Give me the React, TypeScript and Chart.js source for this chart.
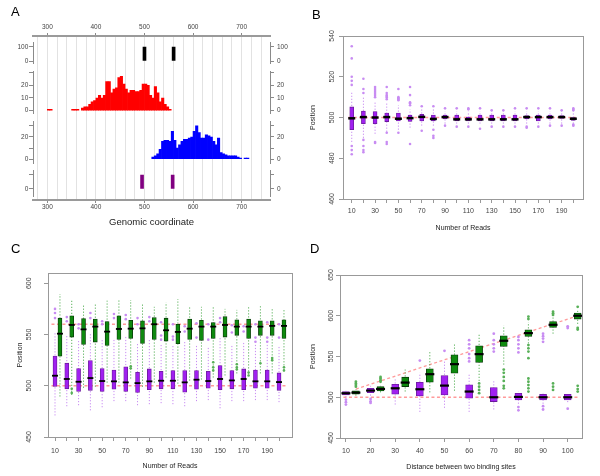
import React, { useEffect, useRef } from 'react';
import { Chart, registerables } from 'chart.js';

Chart.register(...registerables);

const FONT = "'Liberation Sans', Arial, Helvetica, sans-serif";
Chart.defaults.font.family = FONT;
const GRAY = '#999999';
const TXT = '#444444';
const TITLE = '#222222';

// ---------------- Panel A data ----------------
const genomeLabels = [300, 400, 500, 600, 700];
const genomeGrid = [280, 300, 320, 340, 360, 380, 400, 420, 440, 460, 480, 500, 520, 540, 560, 580, 600, 620, 640, 660, 680, 700, 720, 740];
const bindingSites = [500, 560];
const predictedSites = [495, 558];
const siteHeight = 100;
const binWidth = 5;
const redStarts = [300, 305, 350, 355, 360, 370, 375, 380, 385, 390, 395, 400, 405, 410, 415, 420, 425, 430, 435, 440, 445, 450, 455, 460, 465, 470, 475, 480, 485, 490, 495, 500, 505, 510, 515, 520, 525, 530, 535, 540, 545, 550];
const redCounts = [1, 1, 1, 1, 1, 2, 3, 3, 5, 7, 8, 10, 12, 10, 12, 23, 23, 14, 17, 18, 26, 27, 21, 17, 14, 16, 16, 15, 15, 16, 21, 21, 20, 12, 10, 19, 14, 7, 10, 5, 3, 1];
const blueStarts = [515, 520, 525, 530, 535, 540, 545, 550, 555, 560, 565, 570, 575, 580, 585, 590, 595, 600, 605, 610, 615, 620, 625, 630, 635, 640, 645, 650, 655, 660, 665, 670, 675, 680, 685, 690, 695, 705, 710];
const blueCounts = [2, 3, 5, 9, 16, 17, 17, 16, 25, 17, 10, 13, 16, 18, 18, 19, 20, 25, 30, 24, 19, 19, 22, 21, 20, 16, 13, 19, 6, 5, 4, 3, 3, 3, 3, 2, 1, 1, 1];

// ---------------- Panel B data ----------------
const bCats = [10, 20, 30, 40, 50, 60, 70, 80, 90, 100, 110, 120, 130, 140, 150, 160, 170, 180, 190, 200];
const bLabels = [10, 30, 50, 70, 90, 110, 130, 150, 170, 190];
const bYTicks = [460, 480, 500, 520, 540];
const bTrue = 500;
const bQ1 = [494, 497, 497, 498, 498.3, 498.1, 498.3, 498.3, 499.3, 498.3, 498.3, 498.3, 498.3, 498.3, 498.3, 499.3, 498.3, 499.3, 499.6, 498.6];
const bQ3 = [505.2, 503.2, 502.9, 502.2, 502.2, 501.2, 501.6, 501.2, 501.2, 501.2, 500.2, 501.2, 501.2, 501.2, 501.2, 500.9, 501.2, 501.2, 500.9, 499.9];
const bMed = [499.6, 500.2, 500, 500.2, 499.4, 499.7, 500.3, 499.3, 500.2, 499.1, 499.1, 499.1, 499.1, 499.1, 499.1, 500.2, 500.2, 500.2, 500.2, 499.4];
const bLo = [488, 490, 492, 493, 494, 495, 496, 496, 497, 497, 497, 497, 497, 497, 497, 497, 497, 497, 497, 497];
const bHi = [513, 510, 508, 507, 506, 504, 504, 504, 503, 503, 503, 503, 503, 503, 503, 503, 503, 503, 503, 503];
const bOut = [
  [535, 529, 520, 518, 516, 486, 484, 482],
  [519, 514, 512, 489, 486, 484, 483],
  [515, 514, 513, 512, 511, 510, 488, 487.5],
  [515, 512, 511, 510.5, 510, 509, 492.5, 488, 487],
  [514, 510, 509.5, 509, 508.5, 492.5],
  [515, 511, 507.5, 507, 506, 487],
  [505.5, 493.5],
  [505.5, 494, 491, 490],
  [504.5, 496],
  [504.5, 495.5],
  [504.5, 504, 495.5],
  [504.5, 494.5],
  [503.5, 495.5],
  [503.5, 495.5],
  [504.5, 495.5],
  [504.5, 495.5, 495],
  [504.5, 495.5],
  [504.5, 496],
  [503.5, 496],
  [504.5, 504, 503.5, 496.5, 496],
];

// ---------------- Panel C data ----------------
const cCats = [10, 20, 30, 40, 50, 60, 70, 80, 90, 100, 110, 120, 130, 140, 150, 160, 170, 180, 190, 200];
const cLabels = [10, 30, 50, 70, 90, 110, 130, 150, 170, 190];
const cYTicks = [450, 500, 550, 600];
const cTrue = [500, 560];
const cPQ1 = [499.3, 497, 494.4, 495.4, 494.4, 496.7, 494.4, 493.4, 496.1, 497, 497, 493.8, 496.7, 497.7, 496.1, 497, 496.1, 497.7, 497.7, 495.4];
const cPQ3 = [528.9, 522, 516.7, 524.6, 516.7, 515.4, 518.4, 513.1, 516.4, 514.1, 514.8, 514.8, 514.8, 514.1, 519.7, 514.8, 516.4, 515.4, 515.4, 512.5];
const cPMed = [509.8, 506.6, 503.9, 507.5, 504.6, 504.3, 503.3, 502.6, 504.3, 504.9, 504.9, 503.3, 505.9, 504.6, 506.6, 505.2, 506.6, 504.3, 504.3, 503.6];
const cPLo = [471, 480, 481, 476, 479, 485, 485, 481, 482, 483, 482, 480, 485, 486, 478, 485, 485, 486, 486, 484];
const cPHi = [552, 550, 545, 552, 546, 545, 548, 542, 546, 540, 540, 543, 540, 537, 548, 540, 542, 540, 540, 538];
const cPOut = [
  [575, 571, 566], [567, 563], [560, 556], [571, 566], [563, 560], [570, 566], [569, 565], [566, 560], [567, 563], [562, 549, 545],
  [560, 548, 545], [558, 553], [561, 547], [560, 545], [566, 562], [559, 552], [558, 553], [560, 547, 543], [562, 547, 543], [560, 547],
];
const cGQ1 = [528.9, 547.5, 540.3, 542.6, 539.3, 545.2, 546.2, 541.3, 545.2, 543.6, 541, 545.2, 544.3, 546.2, 547.5, 549.2, 546.2, 549.2, 549.2, 546.2];
const cGQ3 = [565.9, 568.2, 565.6, 565, 562.6, 568.2, 563.9, 563.3, 566.6, 565.9, 560, 565, 563.9, 561.6, 567.5, 564.3, 565, 563.3, 563.3, 564.3];
const cGMed = [550.8, 559.3, 555, 557.7, 552.8, 555.4, 555.7, 556, 560, 554.1, 552.5, 555.7, 557.7, 557.7, 559.3, 557.7, 557.7, 557.7, 558.4, 558.4];
const cGLo = [489.5, 491, 498, 499, 503, 503, 507, 499, 503, 508, 502, 505, 506, 508, 510, 512, 511, 512, 512, 514];
const cGHi = [589.5, 584.6, 579.7, 579.7, 583, 584.6, 583.6, 580.3, 577, 581.3, 584.6, 578, 577, 578, 575, 574, 577, 579, 576, 574];
const cGOut = [
  [], [497, 493], [], [], [], [], [519, 517], [], [], [],
  [], [], [], [523, 518, 515], [], [521, 518, 516], [513, 510], [522], [527, 525], [518, 515],
];

// ---------------- Panel D data ----------------
const dCats = [10, 20, 30, 40, 50, 60, 70, 80, 90, 100];
const dYTicks = [450, 500, 550, 600, 650];
const dTrueLeft = 500;
const dTrueRight = [510, 520, 530, 540, 550, 560, 570, 580, 590, 600];
const dPQ1 = [502.9, 505.7, 503.7, 501.6, 502.9, 498.8, 494.7, 496.7, 496.7, 496.7];
const dPQ3 = [507, 511, 516, 518.4, 526.6, 515.2, 511.9, 504.9, 503.7, 503.7];
const dPMed = [504.9, 508.2, 511, 509.8, 514.3, 507, 500, 500.4, 500, 500];
const dPLo = [500, 502, 491, 482, 487, 482, 485, 492, 492, 494];
const dPHi = [508, 514, 523, 530, 545, 528, 520, 507, 505, 505];
const dPOut = [
  [497, 494, 491], [498, 495, 493], [], [545], [557],
  [570, 565, 560, 553, 548, 544], [578, 570, 565, 560, 556], [574, 570, 565, 560, 555, 488, 484], [578, 575, 572, 568, 489, 485], [587, 585, 486],
];
const dGQ1 = [503.7, 507.8, 513.1, 518.4, 529.5, 542.6, 562.3, 574.6, 585.7, 595.9];
const dGQ3 = [507.8, 513.1, 524.6, 534.8, 552, 563.1, 575.4, 582.8, 593, 603.3];
const dGMed = [505.7, 510.2, 518, 528.3, 540.6, 552.9, 569.3, 578.7, 588.9, 600];
const dGLo = [502, 506, 507, 506, 508, 520, 540, 566, 578, 590];
const dGHi = [510, 514, 534, 556, 566, 577, 588, 592, 598, 606];
const dGOut = [
  [519, 517, 515, 513], [525, 523, 521, 519], [], [], [],
  [517, 513, 509, 505], [534, 530, 525, 520, 514, 511], [599, 596, 564, 560, 556, 548, 523, 519, 515, 511, 507], [605, 603, 601, 517, 513, 509], [611, 585, 583, 514, 510, 507],
];

// ---------------- colours ----------------
const PURPLE = '#a020f0';
const PURPLE_EDGE = '#6a1a9a';
const PURPLE_LIGHT = '#c88cf2';
const GREEN = '#0e8a0e';
const GREEN_EDGE = '#0a3a0a';
const GREEN_LIGHT = '#58b058';
const REF = '#ff9a9a';

// ---------------- Panel A chart ----------------
type AAxis = { id: string; h: number; min?: number; max?: number; ticks?: number[]; labels?: number[] };
const A_AXES: AAxis[] = [
  { id: 'yS0', h: 6.7 },
  { id: 'yK', h: 20.6, min: -16.4, max: 130.7, ticks: [0, 100], labels: [0, 100] },
  { id: 'yS1', h: 8.4 },
  { id: 'yR', h: 41.6, min: -2.05, max: 30.7, ticks: [0, 10, 20, 30], labels: [0, 10, 20] },
  { id: 'yS2', h: 8.4 },
  { id: 'yB', h: 41.6, min: -3.6, max: 33.7, ticks: [0, 10, 20, 30], labels: [0, 20] },
  { id: 'yS3', h: 6.7 },
  { id: 'yP', h: 26.7, min: -55, max: 135.7, ticks: [0, 100], labels: [0] },
  { id: 'yS4', h: 3.3 },
];

function aAxis(a: AAxis, pos: 'left' | 'right', weight: number) {
  const vis = !!a.ticks;
  return {
    type: 'linear',
    position: pos,
    stack: 'A' + pos,
    stackWeight: a.h,
    weight,
    min: vis ? a.min : 0,
    max: vis ? a.max : 1,
    beginAtZero: false,
    border: { display: vis, color: '#8a8a8a', width: 1 },
    grid: { display: vis, drawOnChartArea: false, drawTicks: true, tickLength: 4, tickColor: '#8a8a8a', tickWidth: 1 },
    ticks: {
      display: vis,
      autoSkip: false,
      font: { size: 6.5 },
      color: TXT,
      padding: pos === 'left' ? 0.7 : 3,
      callback: (v: number) => (a.labels && a.labels.includes(v) ? String(v) : ''),
    },
    afterBuildTicks: (s: any) => {
      if (vis) s.ticks = (a.ticks as number[]).map((v) => ({ value: v }));
    },
    afterFit: (s: any) => {
      s.width = pos === 'left' ? 33 : 30;
    },
  };
}

function buildA(canvas: HTMLCanvasElement) {
  const hist = (starts: number[], counts: number[]) => starts.map((s, i) => ({ x: s + binWidth / 2, y: counts[i] }));
  const sites = (xs: number[]) => xs.map((x) => ({ x, y: siteHeight }));
  const scales: any = {
    x: {
      type: 'linear',
      position: 'bottom',
      min: 270.5,
      max: 758.4,
      offset: false,
      grid: {
        display: true,
        offset: false,
        drawOnChartArea: true,
        color: '#e2e2e2',
        lineWidth: 1,
        tickLength: 3,
        tickColor: (c: any) => (c.tick && genomeLabels.includes(c.tick.value) ? '#8a8a8a' : 'rgba(0,0,0,0)'),
      },
      border: { color: '#9a9a9a', width: 2 },
      ticks: {
        autoSkip: false,
        maxRotation: 0,
        font: { size: 6.5 },
        color: TXT,
        padding: 0.5,
        callback: (v: number) => (genomeLabels.includes(v) ? String(v) : ''),
      },
      afterBuildTicks: (s: any) => {
        s.ticks = genomeGrid.map((v) => ({ value: v }));
      },
      afterFit: (s: any) => {
        s.height = 32;
      },
      title: { display: true, text: 'Genomic coordinate', font: { size: 9.5 }, color: TITLE, padding: { top: 0, bottom: 4.3 } },
    },
    x2: {
      type: 'linear',
      position: 'top',
      min: 270.5,
      max: 758.4,
      offset: false,
      grid: { display: true, offset: false, drawOnChartArea: false, tickLength: 3, tickColor: '#8a8a8a' },
      border: { color: '#9a9a9a', width: 2 },
      ticks: { autoSkip: false, maxRotation: 0, font: { size: 6.5 }, color: TXT, padding: 2 },
      afterBuildTicks: (s: any) => {
        s.ticks = genomeLabels.map((v) => ({ value: v }));
      },
      afterFit: (s: any) => {
        s.height = 36;
      },
    },
  };
  const n = A_AXES.length;
  A_AXES.forEach((a, i) => {
    scales[a.id] = aAxis(a, 'left', n - i);
    scales[a.id + 'r'] = aAxis({ ...a, id: a.id + 'r' }, 'right', i + 1);
  });
  return new Chart(canvas, {
    type: 'bar',
    data: {
      datasets: [
        { type: 'bar', data: sites(bindingSites), xAxisID: 'x2', yAxisID: 'yK', backgroundColor: '#000000', barThickness: 3, grouped: false } as any,
        { type: 'bar', data: hist(redStarts, redCounts), xAxisID: 'x', yAxisID: 'yR', backgroundColor: '#ff0000', barPercentage: 1, categoryPercentage: 1, grouped: false, borderWidth: 0 } as any,
        { type: 'bar', data: hist(blueStarts, blueCounts), xAxisID: 'x', yAxisID: 'yB', backgroundColor: '#0000ff', barPercentage: 1, categoryPercentage: 1, grouped: false, borderWidth: 0 } as any,
        { type: 'bar', data: sites(predictedSites), xAxisID: 'x2', yAxisID: 'yP', backgroundColor: '#800080', barThickness: 3, grouped: false } as any,
      ],
    },
    options: {
      animation: false,
      responsive: false,
      devicePixelRatio: 1,
      events: [],
      layout: { padding: 0 },
      plugins: { legend: { display: false }, tooltip: { enabled: false } },
      scales,
    } as any,
  });
}

// ---------------- Box plot charts ----------------
type Group = {
  cats: number[]; offset: number; q1: number[]; q3: number[]; med: number[]; lo: number[]; hi: number[]; out: number[][];
  fill: string; edge: string; pt: string; ptR: number; whisk: string; boxW: number; medW: number; medLW: number;
};

function boxSets(g: Group) {
  const xs = g.cats.map((c) => c + g.offset);
  const whisk: any[] = [];
  xs.forEach((x, i) => {
    whisk.push({ x, y: g.lo[i] }, { x, y: g.hi[i] }, { x, y: null });
  });
  const pts: any[] = [];
  xs.forEach((x, i) => g.out[i].forEach((v) => pts.push({ x, y: v })));
  return [
    { type: 'line', data: whisk, borderColor: g.whisk, borderWidth: 1, borderDash: [1.2, 1.8], pointRadius: 0, spanGaps: false, fill: false, order: 6 },
    { type: 'scatter', data: pts, pointRadius: g.ptR, pointBackgroundColor: g.pt, pointBorderColor: g.pt, pointBorderWidth: 0, order: 5 },
    {
      type: 'bar', data: xs.map((x, i) => ({ x, y: [g.q1[i], g.q3[i]] })), backgroundColor: g.fill, borderColor: g.edge,
      borderWidth: 0.8, borderSkipped: false, barThickness: g.boxW, grouped: false, order: 3,
    },
    {
      type: 'scatter', data: xs.map((x, i) => ({ x, y: g.med[i] })), pointStyle: 'line', pointRadius: g.medW / 2,
      pointBorderWidth: g.medLW, pointBorderColor: '#000000', order: 1,
    },
  ];
}

type BoxOpts = {
  xMin: number; xMax: number; yMin: number; yMax: number; xTicks: number[]; xLabels: number[]; yTicks: number[];
  xTitle: string; yTitle: string; padding: any; yW: number; xH: number; yPad: number; xPad: number; yTitlePad: number; xTitlePad: number;
  groups: Group[]; refs: any[][];
};

function buildBox(canvas: HTMLCanvasElement, o: BoxOpts) {
  const datasets: any[] = [];
  o.refs.forEach((r) => datasets.push({ type: 'line', data: r, borderColor: REF, borderWidth: 1.3, borderDash: [3, 2.5], pointRadius: 0, fill: false, order: 9 }));
  o.groups.forEach((g) => datasets.push(...boxSets(g)));
  return new Chart(canvas, {
    type: 'bar',
    data: { datasets },
    options: {
      animation: false,
      responsive: false,
      devicePixelRatio: 1,
      events: [],
      layout: { padding: o.padding },
      plugins: { legend: { display: false }, tooltip: { enabled: false } },
      scales: {
        x: {
          type: 'linear', position: 'bottom', min: o.xMin, max: o.xMax, offset: false,
          grid: { display: true, offset: false, drawOnChartArea: false, tickLength: 4, tickColor: GRAY },
          border: { color: GRAY, width: 1 },
          ticks: {
            autoSkip: false, maxRotation: 0, font: { size: 7 }, color: TXT, padding: o.xPad,
            callback: (v: number) => (o.xLabels.includes(v) ? String(v) : ''),
          },
          afterBuildTicks: (s: any) => { s.ticks = o.xTicks.map((v) => ({ value: v })); },
          afterFit: (s: any) => { s.height = o.xH; },
          title: { display: true, text: o.xTitle, font: { size: 7 }, color: TITLE, padding: { top: 0, bottom: o.xTitlePad } },
        },
        y: {
          type: 'linear', position: 'left', min: o.yMin, max: o.yMax, beginAtZero: false,
          grid: { display: true, drawOnChartArea: false, tickLength: 4, tickColor: GRAY },
          border: { color: GRAY, width: 1 },
          ticks: { autoSkip: false, font: { size: 7 }, color: TXT, minRotation: 90, maxRotation: 90, crossAlign: 'center', padding: o.yPad },
          afterBuildTicks: (s: any) => { s.ticks = o.yTicks.map((v) => ({ value: v })); },
          afterFit: (s: any) => { s.width = o.yW; },
          title: { display: true, text: o.yTitle, font: { size: 7 }, color: TITLE, padding: { top: o.yTitlePad, bottom: 0 } },
        },
        xT: {
          type: 'linear', position: 'top', grid: { display: false }, ticks: { display: false }, border: { color: GRAY, width: 1 },
          afterFit: (s: any) => { s.height = 0; },
        },
        yT: {
          type: 'linear', position: 'right', grid: { display: false }, ticks: { display: false }, border: { color: GRAY, width: 1 },
          afterFit: (s: any) => { s.width = 0; },
        },
      },
    } as any,
  });
}

function buildB(canvas: HTMLCanvasElement) {
  return buildBox(canvas, {
    xMin: 2.5, xMax: 208.3, yMin: 460, yMax: 540, xTicks: bCats, xLabels: bLabels, yTicks: bYTicks,
    xTitle: 'Number of Reads', yTitle: 'Position',
    padding: { left: 0, right: 17, top: 36, bottom: 0 }, yW: 43, xH: 37, yPad: 1.5, xPad: 3.5, yTitlePad: 8.8, xTitlePad: 3.3,
    refs: [[{ x: bCats[0] - 3, y: bTrue }, { x: bCats[bCats.length - 1] + 2, y: bTrue }]],
    groups: [
      { cats: bCats, offset: 0, q1: bQ1, q3: bQ3, med: bMed, lo: bLo, hi: bHi, out: bOut, fill: PURPLE, edge: PURPLE_EDGE, pt: PURPLE_LIGHT, ptR: 1.3, whisk: PURPLE_LIGHT, boxW: 4, medW: 7, medLW: 2.5 },
    ],
  });
}

function buildC(canvas: HTMLCanvasElement) {
  const gOff = 4.2;
  const last = cCats[cCats.length - 1] + gOff + 2;
  return buildBox(canvas, {
    xMin: 4.06, xMax: 211, yMin: 450, yMax: 610, xTicks: cCats, xLabels: cLabels, yTicks: cYTicks,
    xTitle: 'Number of Reads', yTitle: 'Position',
    padding: { left: 0, right: 8, top: 41, bottom: 0 }, yW: 48, xH: 39, yPad: 8.9, xPad: 5.8, yTitlePad: 15.8, xTitlePad: 5.8,
    refs: cTrue.map((t) => [{ x: cCats[0] - 3, y: t }, { x: last, y: t }]),
    groups: [
      { cats: cCats, offset: 0, q1: cPQ1, q3: cPQ3, med: cPMed, lo: cPLo, hi: cPHi, out: cPOut, fill: PURPLE, edge: PURPLE_EDGE, pt: PURPLE_LIGHT, ptR: 1.3, whisk: PURPLE_LIGHT, boxW: 4, medW: 6, medLW: 1.8 },
      { cats: cCats, offset: gOff, q1: cGQ1, q3: cGQ3, med: cGMed, lo: cGLo, hi: cGHi, out: cGOut, fill: GREEN, edge: GREEN_EDGE, pt: GREEN_LIGHT, ptR: 1.3, whisk: GREEN_LIGHT, boxW: 4, medW: 6, medLW: 1.8 },
    ],
  });
}

function buildD(canvas: HTMLCanvasElement) {
  const gOff = 4.05;
  return buildBox(canvas, {
    xMin: 7.6, xMax: 105.8, yMin: 450, yMax: 650, xTicks: dCats, xLabels: dCats, yTicks: dYTicks,
    xTitle: 'Distance between two binding sites', yTitle: 'Position',
    padding: { left: 0, right: 18, top: 43, bottom: 0 }, yW: 40, xH: 38, yPad: -0.6, xPad: 4.8, yTitlePad: 8.8, xTitlePad: 4.3,
    refs: [
      [{ x: dCats[0] - 1, y: dTrueLeft }, { x: dCats[dCats.length - 1] + gOff, y: dTrueLeft }],
      dCats.map((c, i) => ({ x: c + gOff, y: dTrueRight[i] })),
    ],
    groups: [
      { cats: dCats, offset: 0, q1: dPQ1, q3: dPQ3, med: dPMed, lo: dPLo, hi: dPHi, out: dPOut, fill: PURPLE, edge: PURPLE_EDGE, pt: PURPLE_LIGHT, ptR: 1.4, whisk: PURPLE_LIGHT, boxW: 7, medW: 9, medLW: 2.2 },
      { cats: dCats, offset: gOff, q1: dGQ1, q3: dGQ3, med: dGMed, lo: dGLo, hi: dGHi, out: dGOut, fill: GREEN, edge: GREEN_EDGE, pt: GREEN_LIGHT, ptR: 1.4, whisk: GREEN_LIGHT, boxW: 7, medW: 9, medLW: 2.2 },
    ],
  });
}

function Panel(props: { left: number; top: number; width: number; height: number; build: (c: HTMLCanvasElement) => Chart }) {
  const ref = useRef<HTMLCanvasElement>(null);
  useEffect(() => {
    const chart = props.build(ref.current as HTMLCanvasElement);
    return () => chart.destroy();
  }, []);
  return (
    <canvas
      ref={ref}
      width={props.width}
      height={props.height}
      style={{ position: 'absolute', left: props.left, top: props.top, width: props.width, height: props.height }}
    />
  );
}

const letterStyle: React.CSSProperties = { position: 'absolute', fontSize: 13, lineHeight: '13px', color: '#000', fontFamily: FONT };

export default function App() {
  return (
    <div style={{ position: 'fixed', left: 0, top: 0, width: 600, height: 476, background: '#ffffff', overflow: 'hidden', fontFamily: FONT }}>
      <Panel left={0} top={0} width={300} height={232} build={buildA} />
      <Panel left={300} top={0} width={300} height={236} build={buildB} />
      <Panel left={0} top={232} width={300} height={244} build={buildC} />
      <Panel left={300} top={232} width={300} height={244} build={buildD} />
      <div style={{ ...letterStyle, left: 11, top: 5 }}>A</div>
      <div style={{ ...letterStyle, left: 312, top: 7.6 }}>B</div>
      <div style={{ ...letterStyle, left: 11, top: 241.6 }}>C</div>
      <div style={{ ...letterStyle, left: 310, top: 241.6 }}>D</div>
    </div>
  );
}
